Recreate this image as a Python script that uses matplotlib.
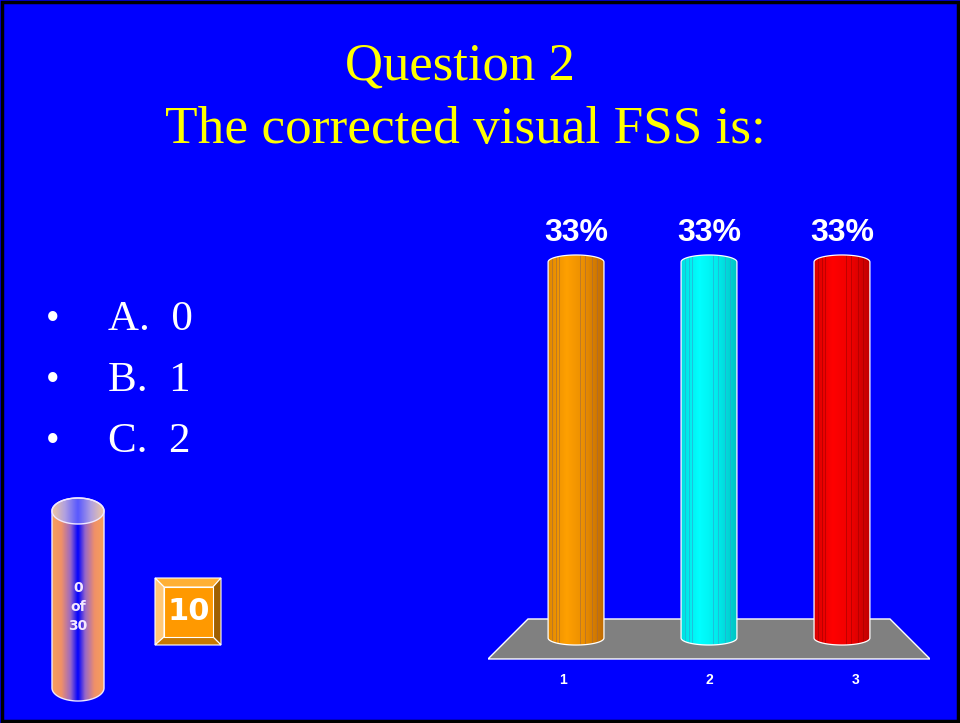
import numpy as np
import matplotlib.pyplot as plt
from matplotlib.colors import LinearSegmentedColormap
from matplotlib.patches import Polygon, PathPatch, Rectangle
from matplotlib.path import Path

# slide content
title_lines = ['Question 2', 'The corrected visual FSS is:']
choices = ['A.  0', 'B.  1', 'C.  2']

# poll results
categories = ['1', '2', '3']
percents = [33, 33, 33]
bar_shades = [
    ['#e08800', '#ffa000', '#e88c00', '#c06a00'],
    ['#00e0e0', '#00ffff', '#00eaea', '#00c4c4'],
    ['#d80000', '#ff0000', '#ee0000', '#c00000'],
]
stripe_colors = ['#a06a40', '#30a0d0', '#a00000']

responses = 0
total = 30
countdown = 10


def cylinder_path(xc, w, y0, y1, eh):
    t = np.linspace(np.pi, 2 * np.pi, 50)
    bottom = np.column_stack([xc + w / 2 * np.cos(t), y0 + eh / 2 * np.sin(t)])
    t2 = np.linspace(0, np.pi, 50)
    top = np.column_stack([xc + w / 2 * np.cos(t2), y1 + eh / 2 * np.sin(t2)])
    verts = np.vstack([bottom, top, bottom[:1]])
    return Path(verts, closed=True)


def gradient_fill(ax, path, cmap, extent, zorder):
    patch = PathPatch(path, fc='none', ec='none')
    ax.add_patch(patch)
    if not isinstance(cmap, LinearSegmentedColormap):
        cmap = LinearSegmentedColormap.from_list('g', cmap)
    grad = np.linspace(0, 1, 256).reshape(1, -1)
    im = ax.imshow(grad, cmap=cmap, extent=extent, aspect='auto',
                   interpolation='bicubic', zorder=zorder)
    im.set_clip_path(patch)
    return patch


fig = plt.figure(figsize=(9.6, 7.23), dpi=100)
fig.patch.set_facecolor('#0000ff')

# background layer in pixel coordinates
bg = fig.add_axes([0, 0, 1, 1])
bg.set_xlim(0, 960)
bg.set_ylim(723, 0)
bg.axis('off')
bg.add_patch(Rectangle((1.5, 1.5), 956, 719, fill=False, ec='black', lw=2.5))

bg.text(460, 80, title_lines[0], ha='center', va='baseline', fontsize=38,
        family='Liberation Serif', color='#ffff00')
bg.text(465, 143, title_lines[1], ha='center', va='baseline', fontsize=38.3,
        family='Liberation Serif', color='#ffff00')

for i, choice in enumerate(choices):
    yb = 330 + i * 61
    bg.text(46, yb, '\u2022', ha='left', va='baseline', fontsize=28,
            family='Liberation Serif', color='white')
    bg.text(108, yb, choice, ha='left', va='baseline', fontsize=31,
            family='Liberation Serif', color='white')

# response counter cylinder
body_cmap = LinearSegmentedColormap.from_list('b', [
    (0.0, '#f7a05a'), (0.18, '#f09068'), (0.36, '#9868c8'), (0.5, '#0000ff'),
    (0.64, '#9868c8'), (0.82, '#f09068'), (1.0, '#f7a05a')])
cyl = cylinder_path(78, 52, 688, 511, -26)
gradient_fill(bg, cyl, body_cmap, [52, 104, 700, 498], 2)
t = np.linspace(0, 2 * np.pi, 80)
cap = np.column_stack([78 + 26 * np.cos(t), 511 + 13 * np.sin(t)])
cap_patch = Polygon(cap, closed=True, fc='none', ec='none')
bg.add_patch(cap_patch)
cap_cmap = LinearSegmentedColormap.from_list('c', [
    (0.0, '#f0c8a0'), (0.25, '#b0a0e0'), (0.5, '#5858ff'),
    (0.75, '#b0a0e0'), (1.0, '#f0c8a0')])
im = bg.imshow(np.linspace(0, 1, 256).reshape(1, -1), cmap=cap_cmap, extent=[52, 104, 524, 498],
               aspect='auto', interpolation='bicubic', zorder=3)
im.set_clip_path(cap_patch)
bg.add_patch(PathPatch(cyl, fc='none', ec='#f0e8ff', lw=1, zorder=4))
bg.add_patch(Polygon(cap, closed=True, fc='none', ec='#f0e8ff', lw=1, zorder=4))
for yy, s in zip([588, 607, 626], [str(responses), 'of', str(total)]):
    bg.text(78, yy, s, ha='center', va='center', fontsize=10, fontweight='bold',
            color='#f4e8ff', zorder=5)

# countdown box
ox0, ox1, oy0, oy1 = 155, 221, 578, 645
ix0, ix1, iy0, iy1 = 164, 213, 587, 637
bg.add_patch(Polygon([(ox0, oy0), (ox1, oy0), (ix1, iy0), (ix0, iy0)], fc='#ffb035', ec='white', lw=0.8))
bg.add_patch(Polygon([(ox0, oy0), (ix0, iy0), (ix0, iy1), (ox0, oy1)], fc='#ffc878', ec='white', lw=0.8))
bg.add_patch(Polygon([(ox1, oy0), (ox1, oy1), (ix1, iy1), (ix1, iy0)], fc='#a06000', ec='white', lw=0.8))
bg.add_patch(Polygon([(ox0, oy1), (ix0, iy1), (ix1, iy1), (ox1, oy1)], fc='#c87800', ec='white', lw=0.8))
bg.add_patch(Rectangle((ix0, iy0), ix1 - ix0, iy1 - iy0, fc='#ff9900', ec='white', lw=0.8))
bg.text(188.5, 612, str(countdown), ha='center', va='center', fontsize=22,
        fontweight='bold', color='white')

# bar chart
ax = fig.add_axes([488 / 960, 23 / 723, 442 / 960, 500 / 723])
ax.set_facecolor('none')
ax.axis('off')

w = 0.42
eh = 1.23
xs = np.arange(1, len(categories) + 1)

ax.add_patch(Polygon([(0.338, -1.84), (3.662, -1.84), (3.361, 1.67), (0.639, 1.67)],
                     closed=True, fc='#808080', ec='white', lw=1, zorder=1))

stripe_pos = [0.07, 0.14, 0.2, 0.58, 0.66, 0.78, 0.88]
for x, v, shades, sc in zip(xs, percents, bar_shades, stripe_colors):
    path = cylinder_path(x, w, 0, v, eh)
    patch = gradient_fill(ax, path, shades, [x - w / 2, x + w / 2, -eh, v + eh], 3)
    for p in stripe_pos:
        sx = x - w / 2 + p * w
        ln, = ax.plot([sx, sx], [-eh, v + eh], color=sc, lw=0.6, alpha=0.7, zorder=4)
        ln.set_clip_path(patch)
    ax.add_patch(PathPatch(path, fc='none', ec='white', lw=0.9, zorder=5))
    ax.annotate(f'{v}%', (x, v + eh / 2), xytext=(0, 10), textcoords='offset points',
                ha='center', va='baseline', fontsize=23, fontweight='bold',
                color='white', family='Liberation Sans')

for x, cat in zip(xs, categories):
    ax.text(x + (x - 2) * 0.1, -3.69, cat, ha='center', va='center', fontsize=10,
            fontweight='bold', color='white', family='Liberation Sans')

ax.set_xlim(0.338, 3.662)
ax.set_ylim(-5.44, 38.44)

fig.savefig('out.png', dpi=100, facecolor=fig.get_facecolor())
